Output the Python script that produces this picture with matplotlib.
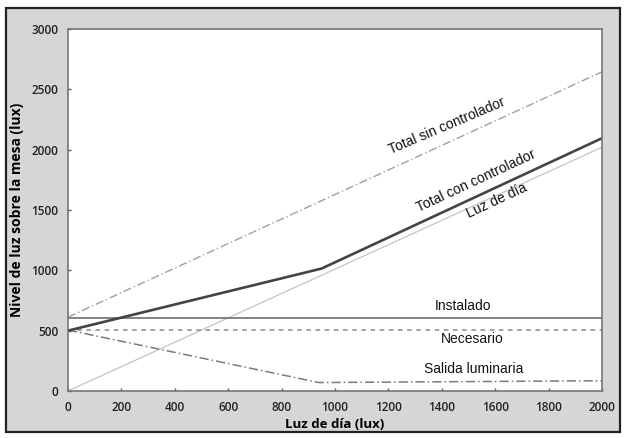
import matplotlib.pyplot as plt
from matplotlib.patches import Rectangle

# ---------- datos
luz_x = [0, 2000]
luz_y = [0, 2020]

instalado_x = [0, 2000]
instalado_y = [605, 605]

necesario_x = [0, 2000]
necesario_y = [505, 505]

salida_x = [0, 940, 2000]
salida_y = [505, 70, 85]

con_x = [0, 950, 2000]
con_y = [500, 1015, 2095]

sin_x = [0, 2000]
sin_y = [612, 2645]

xticks = [0, 200, 400, 600, 800, 1000, 1200, 1400, 1600, 1800, 2000]
yticks = [0, 500, 1000, 1500, 2000, 2500, 3000]

plt.rcParams['font.family'] = ['Open Sans', 'DejaVu Sans']

fig = plt.figure(figsize=(6.26, 4.38), dpi=100)
fig.patch.set_facecolor('white')
fig.add_artist(Rectangle((6 / 626, 6 / 438), 614 / 626, 424 / 438,
                         transform=fig.transFigure, facecolor='#d6d6d6',
                         edgecolor='#222222', linewidth=1.6, zorder=-1))

ax = fig.add_axes([68 / 626, 47 / 438, 534 / 626, 362 / 438])
ax.set_facecolor('white')

ax.plot(luz_x, luz_y, color='#c4c4c4', lw=0.9)
ax.plot(instalado_x, instalado_y, color='#6e6e6e', lw=1.2)
ax.plot(necesario_x, necesario_y, color='#8a8a8a', lw=1.1, linestyle=(0, (3, 3)))
ax.plot(salida_x, salida_y, color='#7a7a7a', lw=1.1, linestyle=(0, (6, 2, 1, 2)))
ax.plot(sin_x, sin_y, color='#a0a0a0', lw=1.0, linestyle=(0, (6, 2, 1, 2)))
ax.plot(con_x, con_y, color='#444444', lw=1.9)

ax.set_xlim(0, 2000)
ax.set_ylim(0, 3000)
ax.set_xticks(xticks)
ax.set_yticks(yticks)
ax.tick_params(direction='in', length=2, width=1, colors='#555555',
               labelcolor='#222222', labelsize=8.5, pad=7)
for lab in ax.get_xticklabels() + ax.get_yticklabels():
    lab.set_fontweight('semibold')
for s in ax.spines.values():
    s.set_color('#777777')
    s.set_linewidth(1.2)

ax.set_xlabel('Luz de día (lux)', fontsize=9.5, fontweight='bold', labelpad=3)
ax.set_ylabel('Nivel de luz sobre la mesa (lux)', fontsize=10, fontweight='bold', labelpad=5)

lbl = dict(fontsize=10, color='#111111', ha='center', va='center',
           family=['Liberation Sans', 'DejaVu Sans'])
ax.text(1420, 2195, 'Total sin controlador', rotation=23, **lbl)
ax.text(1528, 1738, 'Total con controlador', rotation=25, **lbl)
ax.text(1605, 1578, 'Luz de día', rotation=25, **lbl)
ax.text(1479, 704, 'Instalado', **lbl)
ax.text(1513, 431, 'Necesario', **lbl)
ax.text(1521, 182, 'Salida luminaria', **lbl)

fig.savefig('out.png', dpi=100)
